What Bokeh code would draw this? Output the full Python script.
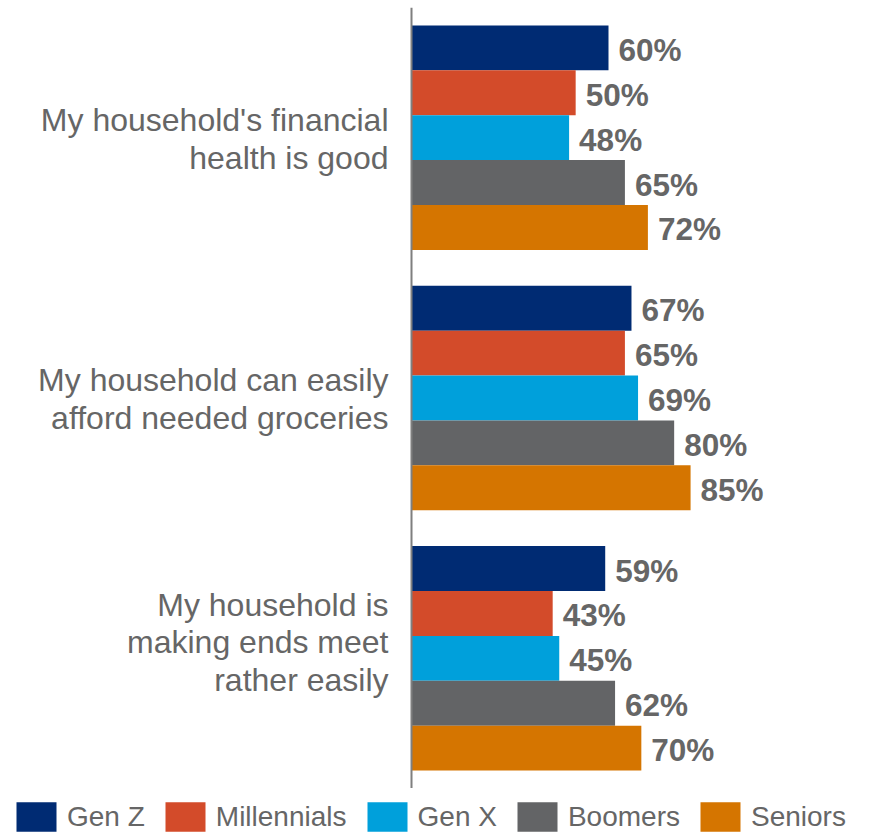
from bokeh.plotting import figure
from bokeh.layouts import column
from bokeh.models import FactorRange, Range1d, ColumnDataSource, Span, Legend, LegendItem
from bokeh.core.properties import value
from bokeh.embed import file_html
from bokeh.resources import INLINE

categories = [
    "My household's financial\nhealth is good",
    "My household can easily\nafford needed groceries",
    "My household is\nmaking ends meet\nrather easily",
]
series = ["Gen Z", "Millennials", "Gen X", "Boomers", "Seniors"]
colors = ["#002B73", "#D34B2A", "#00A0DB", "#636466", "#D57500"]

gen_z = [60, 67, 59]
millennials = [50, 65, 43]
gen_x = [48, 69, 45]
boomers = [65, 80, 62]
seniors = [72, 85, 70]
values_by_series = [gen_z, millennials, gen_x, boomers, seniors]

FONT = "Liberation Sans"
TEXT_COLOR = "#666666"

factors = [(c, s) for c in reversed(categories) for s in reversed(series)]
y_range = FactorRange(factors=factors, group_padding=0.8,
                      range_padding=0.4, range_padding_units="absolute")

PX_PER_UNIT = 197 / 60.0
p = figure(width=875, height=788, y_range=y_range,
           x_range=Range1d(-411 / PX_PER_UNIT, 464 / PX_PER_UNIT),
           output_backend="svg", toolbar_location=None,
           min_border_left=0, min_border_right=0,
           min_border_top=7, min_border_bottom=0)
p.xaxis.visible = False
p.yaxis.visible = False
p.grid.visible = False
p.outline_line_color = None

for s, col, vals in zip(series, colors, values_by_series):
    src = ColumnDataSource(dict(
        y=[(c, s) for c in categories],
        v=vals,
        lbl=[f"{v}%" for v in vals],
    ))
    p.hbar(y="y", left=0, right="v", height=1.0, source=src,
           fill_color=col, line_color=None)
    p.text(x="v", y="y", text="lbl", source=src, x_offset=10, y_offset=2,
           text_align="left", text_baseline="middle",
           text_font=value(FONT), text_font_style="bold",
           text_font_size="31.5px", text_color=TEXT_COLOR)

cat_src = ColumnDataSource(dict(y=categories, x=[0, 0, 0], yo=[1, 1, -16]))
p.text(x="x", y="y", text="y", source=cat_src, x_offset=-23, y_offset="yo",
       text_align="right", text_baseline="middle", text_line_height=1.05,
       text_font=value(FONT), text_font_size="32px", text_color=TEXT_COLOR)

p.add_layout(Span(location=0, dimension="height", line_color="#7f7f7f",
                  line_width=2))

# Legend strip below the chart
lg = figure(width=875, height=44, x_range=Range1d(0, 1), y_range=Range1d(0, 1),
            output_backend="svg", toolbar_location=None,
            min_border_left=0, min_border_right=0,
            min_border_top=0, min_border_bottom=0)
lg.xaxis.visible = False
lg.yaxis.visible = False
lg.grid.visible = False
lg.outline_line_color = None

legend_items = []
for s, col in zip(series, colors):
    # zero-size proxy glyph, only used to draw the legend swatch
    r = lg.hbar(y=[0.5], left=[0], right=[0], height=0,
                fill_color=col, line_color=None)
    legend_items.append(LegendItem(label=s, renderers=[r]))

legend = Legend(items=legend_items, orientation="horizontal",
                location=(11, -3), padding=0, margin=0, spacing=15,
                glyph_width=50, glyph_height=37, label_standoff=6,
                label_height=30, label_text_font=FONT,
                label_text_font_size="28px", label_text_color=TEXT_COLOR,
                label_text_baseline="middle",
                border_line_color=None, background_fill_alpha=0)
lg.add_layout(legend, "center")

layout = column(p, lg, spacing=0)
open("out.html", "w").write(file_html(layout, INLINE))
